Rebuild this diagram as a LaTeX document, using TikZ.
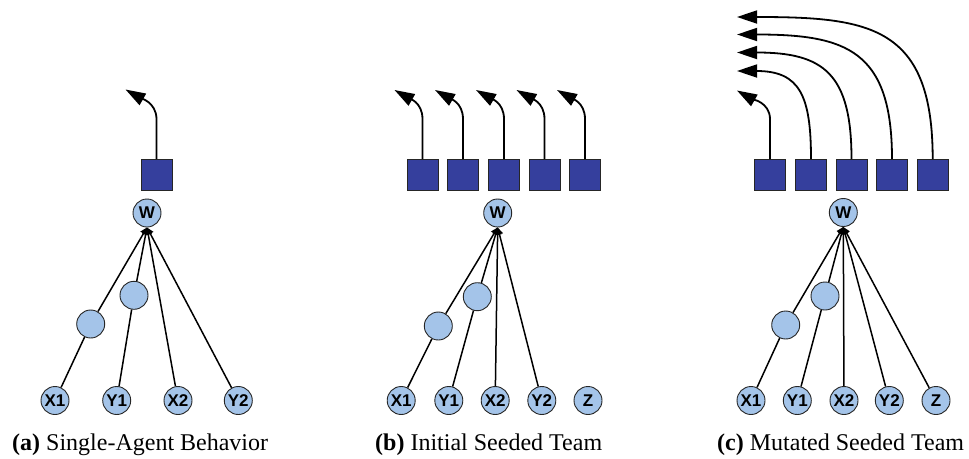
\documentclass[tikz,border=0pt]{standalone}
\usepackage{fontspec}
\setmainfont{Liberation Serif}
\newfontfamily\labfont{Liberation Sans}
\usetikzlibrary{arrows.meta}
\definecolor{nodeblue}{RGB}{164,196,233}
\definecolor{boxblue}{RGB}{53,63,157}
\tikzset{
  unit/.style={circle, draw=black!85, line width=0.9pt, fill=nodeblue, minimum size=28pt, inner sep=0pt,
    font=\labfont\bfseries\fontsize{17}{17}\selectfont},
  outbox/.style={rectangle, draw=black!85, line width=0.9pt, fill=boxblue, minimum size=31pt, inner sep=0pt},
  edgeline/.style={line width=1.5pt},
  wire/.style={line width=1.5pt, -{Triangle[length=7pt,width=7pt]}},
  outarrow/.style={line width=1.8pt, -{Triangle[length=20pt,width=13pt]}},
  caption/.style={anchor=base west, inner sep=0pt, font=\fontsize{24}{28}\selectfont}
}
\begin{document}
\begin{tikzpicture}[x=1pt,y=-1pt]
\useasboundingbox (0,0) rectangle (969,458);
% ---------------- (a) ----------------
\node[outbox] (sa1) at (156.5,175) {};
\node[unit] (wa) at (147,213) {W};
\node[unit] (ha1) at (90.7,324) {};
\node[unit] (ha2) at (134,295.3) {};
\node[unit] (xa1) at (55,400.5) {X1};
\node[unit] (ya1) at (116.7,400.5) {Y1};
\node[unit] (xa2) at (178,400.5) {X2};
\node[unit] (ya2) at (238.3,400.5) {Y2};
\coordinate (ta1) at (125.5,89.5);
\draw[outarrow] (sa1.north) -- ++(0,-40) .. controls +(0,-17) and +(14,8) .. (ta1);
\draw[edgeline] (xa1) -- (ha1);
\draw[wire] (ha1) -- (wa.south);
\draw[edgeline] (ya1) -- (ha2);
\draw[wire] (ha2) -- (wa.south);
\draw[wire] (xa2) -- (wa.south);
\draw[wire] (ya2) -- (wa.south);
\node[caption] (ca) at (12,450) {\textbf{(a)} Single-Agent Behavior};
% ---------------- (b) ----------------
\node[outbox] (sb1) at (422.5,175) {};
\node[outbox] (sb2) at (463,175) {};
\node[outbox] (sb3) at (504,175) {};
\node[outbox] (sb4) at (544.5,175) {};
\node[outbox] (sb5) at (585,175) {};
\node[unit] (wb) at (497.7,213) {W};
\node[unit] (hb1) at (438.3,326) {};
\node[unit] (hb2) at (477.3,296.7) {};
\node[unit] (xb1) at (401.2,400.5) {X1};
\node[unit] (yb1) at (448.8,400.5) {Y1};
\node[unit] (xb2) at (495.2,400.5) {X2};
\node[unit] (yb2) at (541.8,400.5) {Y2};
\node[unit] (zb) at (588,400.5) {Z};
\coordinate (tb1) at (394.5,90);
\coordinate (tb2) at (435,90);
\coordinate (tb3) at (476,90);
\coordinate (tb4) at (516.5,90);
\coordinate (tb5) at (557,90);
\draw[outarrow] (sb1.north) -- ++(0,-40) .. controls +(0,-17) and +(14,8) .. (tb1);
\draw[outarrow] (sb2.north) -- ++(0,-40) .. controls +(0,-17) and +(14,8) .. (tb2);
\draw[outarrow] (sb3.north) -- ++(0,-40) .. controls +(0,-17) and +(14,8) .. (tb3);
\draw[outarrow] (sb4.north) -- ++(0,-40) .. controls +(0,-17) and +(14,8) .. (tb4);
\draw[outarrow] (sb5.north) -- ++(0,-40) .. controls +(0,-17) and +(14,8) .. (tb5);
\draw[edgeline] (xb1) -- (hb1);
\draw[wire] (hb1) -- (wb.south);
\draw[edgeline] (yb1) -- (hb2);
\draw[wire] (hb2) -- (wb.south);
\draw[wire] (xb2) -- (wb.south);
\draw[wire] (yb2) -- (wb.south);
\node[caption] (cb) at (375,450) {\textbf{(b)} Initial Seeded Team};
% ---------------- (c) ----------------
\node[outbox] (sc1) at (770,175) {};
\node[outbox] (sc2) at (811,175) {};
\node[outbox] (sc3) at (851.5,175) {};
\node[outbox] (sc4) at (892,175) {};
\node[outbox] (sc5) at (932.7,175) {};
\node[unit] (wc) at (843.3,212.5) {W};
\node[unit] (hc1) at (785.7,325) {};
\node[unit] (hc2) at (825,296) {};
\node[unit] (xc1) at (751,400.5) {X1};
\node[unit] (yc1) at (797.3,400.5) {Y1};
\node[unit] (xc2) at (844,400.5) {X2};
\node[unit] (yc2) at (889.3,400.5) {Y2};
\node[unit] (zc) at (936,400.5) {Z};
\coordinate (tc1) at (737,90.5);
\coordinate (tc2) at (737,71);
\coordinate (tc3) at (737,52.5);
\coordinate (tc4) at (737,34.5);
\coordinate (tc5) at (737,17);
\draw[outarrow] (sc1.north) -- ++(0,-40) .. controls +(0,-17) and +(14,8) .. (tc1);
\draw[outarrow] (sc2.north) .. controls +(0,-63) and +(63,0) .. (tc2);
\draw[outarrow] (sc3.north) .. controls +(0,-86) and +(86,0) .. (tc3);
\draw[outarrow] (sc4.north) .. controls +(0,-109) and +(109,0) .. (tc4);
\draw[outarrow] (sc5.north) .. controls +(0,-133) and +(133,0) .. (tc5);
\draw[edgeline] (xc1) -- (hc1);
\draw[wire] (hc1) -- (wc.south);
\draw[edgeline] (yc1) -- (hc2);
\draw[wire] (hc2) -- (wc.south);
\draw[wire] (xc2) -- (wc.south);
\draw[wire] (yc2) -- (wc.south);
\draw[wire] (zc) -- (wc.south);
\node[caption] (cc) at (717,450) {\textbf{(c)} Mutated Seeded Team};
\end{tikzpicture}
\end{document}
